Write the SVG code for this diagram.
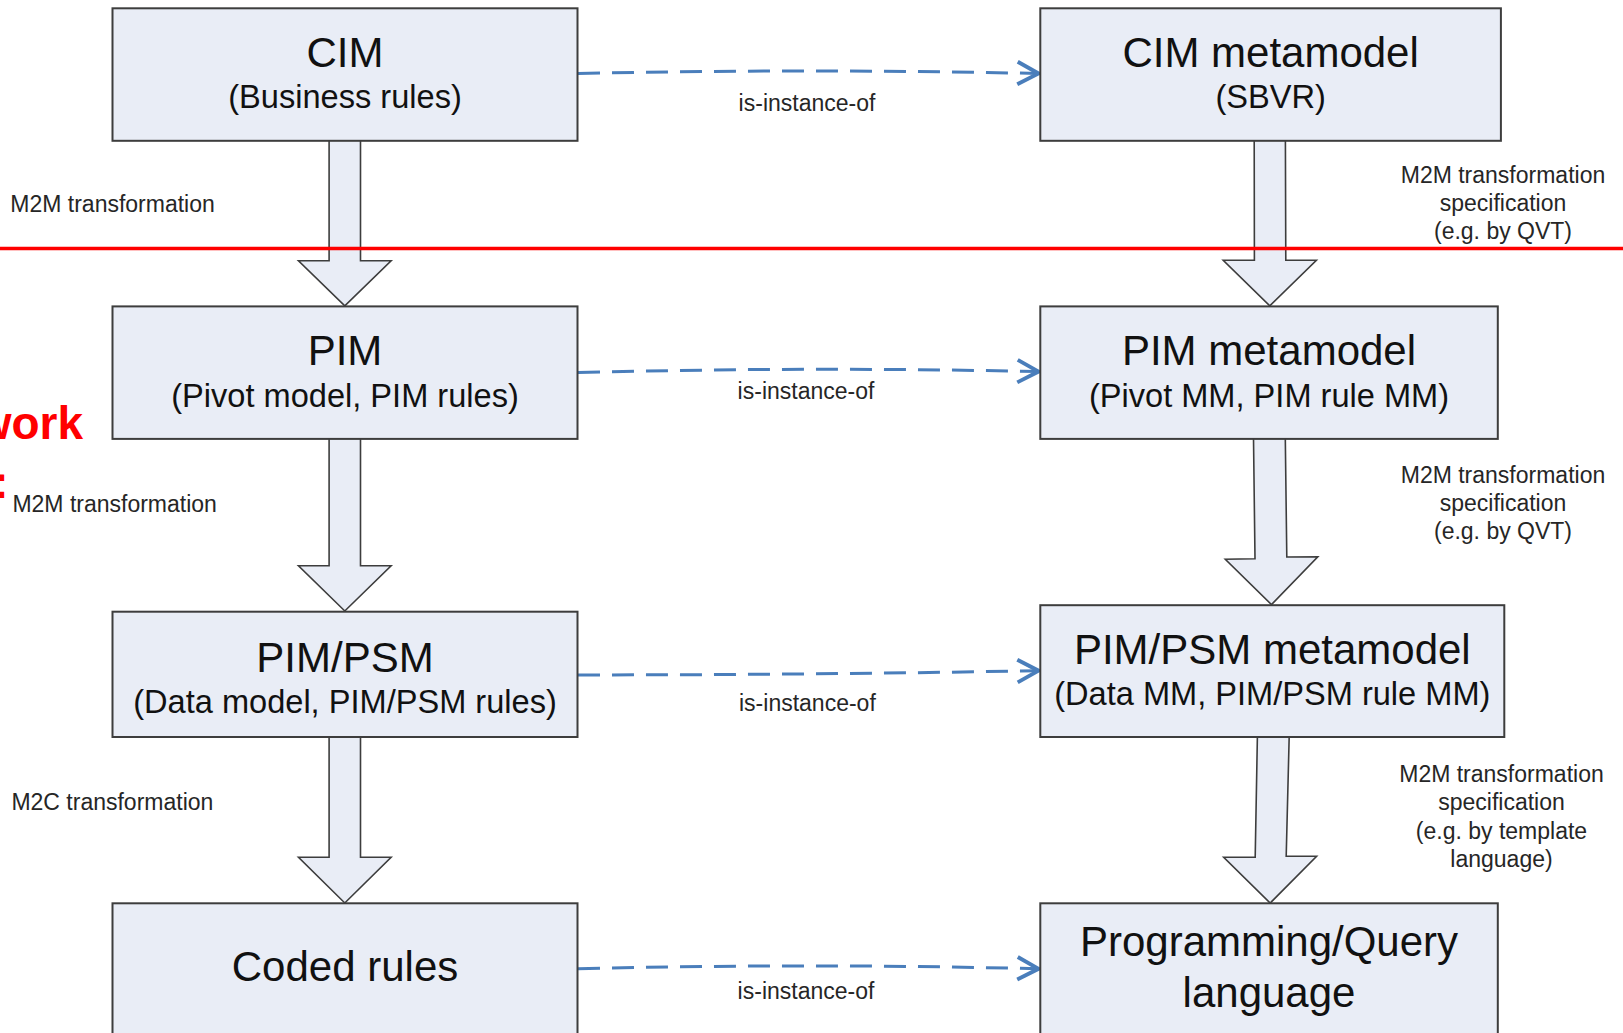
<svg xmlns="http://www.w3.org/2000/svg" width="1623" height="1033" viewBox="0 0 1623 1033">
  <defs>
    <style>
      .box { fill: #e9edf6; stroke: #3d3d3d; stroke-width: 2; }
      .blk { fill: #e9edf6; stroke: #3d3d3d; stroke-width: 1.6; stroke-linejoin: miter; }
      .title { font-family: "Liberation Sans", Arial, sans-serif; font-size: 42px; fill: #111; text-anchor: middle; }
      .sub { font-family: "Liberation Sans", Arial, sans-serif; font-size: 32.6px; fill: #111; text-anchor: middle; }
      .lbl { font-family: "Liberation Sans", Arial, sans-serif; font-size: 23px; fill: #262626; }
      .mid { text-anchor: middle; }
      .dash { fill: none; stroke: #4a7ebb; stroke-width: 3; stroke-dasharray: 22 12; marker-end: url(#chev); }
      .red { font-family: "Liberation Sans", Arial, sans-serif; font-size: 46px; font-weight: bold; fill: #ff0000; }
    </style>
    <marker id="chev" markerUnits="userSpaceOnUse" markerWidth="30" markerHeight="30" viewBox="-16 -10 20 20" refX="0" refY="0" orient="auto">
      <path d="M-14,-7.5 L0,0 L-14,7.5" fill="none" stroke="#4a7ebb" stroke-width="2.6" stroke-dasharray="none"/>
    </marker>
  </defs>

  <rect width="1623" height="1033" fill="#ffffff"/>

  <!-- block arrows between levels -->
  <g id="transformations">
    <path class="blk" d="M329.1,139.8 L360.5,139.8 L360.5,260.7 L391.1,260.7 L344.8,305.8 L298.5,260.7 L329.1,260.7 Z"/>
    <path class="blk" d="M329.1,437.9 L360.5,437.9 L360.5,565.7 L391.1,565.7 L344.8,611 L298.5,565.7 L329.1,565.7 Z"/>
    <path class="blk" d="M329.1,736 L360.5,736 L360.5,857.3 L391.1,857.3 L344.8,903 L298.5,857.3 L329.1,857.3 Z"/>
    <path class="blk" d="M1254.2,139.8 L1285.4,139.8 L1285.8,260.3 L1316.4,260.3 L1269.8,305.8 L1223.2,260.3 L1254.4,260.3 Z"/>
    <path class="blk" d="M1253.5,437.9 L1285.3,437.9 L1286.8,557 L1317.8,556.7 L1271.5,604.6 L1225.3,559.3 L1255,558.8 Z"/>
    <path class="blk" d="M1257.4,736 L1289.2,736 L1286.2,856.3 L1316.6,856.3 L1270.2,903 L1223.7,857.3 L1255.2,857.3 Z"/>
  </g>

  <!-- is-instance-of links -->
  <g id="connectors">
    <path class="dash" d="M578,73.5 Q808,68.5 1038.5,73.5"/>
    <path class="dash" d="M578,372.6 Q808,366.5 1038.5,371.6"/>
    <path class="dash" d="M578,674.9 Q808,675 1038.5,670.7"/>
    <path class="dash" d="M578,968.8 Q808,963 1038.5,968.8"/>
    <text class="lbl mid" x="807" y="110.8">is-instance-of</text>
    <text class="lbl mid" x="806" y="399">is-instance-of</text>
    <text class="lbl mid" x="807.4" y="711">is-instance-of</text>
    <text class="lbl mid" x="806" y="999">is-instance-of</text>
  </g>

  <!-- model column -->
  <g id="cim">
    <rect class="box" x="112.5" y="8.3" width="465" height="132.5"/>
    <text class="title" x="345" y="66.8">CIM</text>
    <text class="sub" x="345" y="108">(Business rules)</text>
  </g>
  <g id="pim">
    <rect class="box" x="112.5" y="306.4" width="465" height="132.5"/>
    <text class="title" x="345" y="365">PIM</text>
    <text class="sub" x="345" y="406.7">(Pivot model, PIM rules)</text>
  </g>
  <g id="pim-psm">
    <rect class="box" x="112.5" y="611.7" width="465" height="125.3"/>
    <text class="title" x="345" y="671.7">PIM/PSM</text>
    <text class="sub" x="345" y="713.3">(Data model, PIM/PSM rules)</text>
  </g>
  <g id="coded-rules">
    <rect class="box" x="112.5" y="903.3" width="465" height="150"/>
    <text class="title" x="345" y="981">Coded rules</text>
  </g>

  <!-- metamodel column -->
  <g id="cim-mm">
    <rect class="box" x="1040.3" y="8.3" width="460.6" height="132.5"/>
    <text class="title" x="1270.6" y="66.8">CIM metamodel</text>
    <text class="sub" x="1270.6" y="108">(SBVR)</text>
  </g>
  <g id="pim-mm">
    <rect class="box" x="1040.3" y="306.4" width="457.5" height="132.5"/>
    <text class="title" x="1269" y="365">PIM metamodel</text>
    <text class="sub" x="1269" y="406.7">(Pivot MM, PIM rule MM)</text>
  </g>
  <g id="pim-psm-mm">
    <rect class="box" x="1040.3" y="605.2" width="464" height="131.8"/>
    <text class="title" x="1272.3" y="663.8">PIM/PSM metamodel</text>
    <text class="sub" x="1272.3" y="705">(Data MM, PIM/PSM rule MM)</text>
  </g>
  <g id="language">
    <rect class="box" x="1040.3" y="903.3" width="457.5" height="150"/>
    <text class="title" x="1269" y="956">Programming/Query</text>
    <text class="title" x="1269" y="1006.5">language</text>
  </g>

  <!-- transformation labels -->
  <g id="labels">
    <text class="lbl" x="10.3" y="212">M2M transformation</text>
    <text class="lbl" x="12.4" y="512">M2M transformation</text>
    <text class="lbl" x="11.4" y="810">M2C transformation</text>
    <text class="lbl mid" x="1503" y="183">M2M transformation</text>
    <text class="lbl mid" x="1503" y="211">specification</text>
    <text class="lbl mid" x="1503" y="239">(e.g. by QVT)</text>
    <text class="lbl mid" x="1503" y="483">M2M transformation</text>
    <text class="lbl mid" x="1503" y="511">specification</text>
    <text class="lbl mid" x="1503" y="539">(e.g. by QVT)</text>
    <text class="lbl mid" x="1501.5" y="782">M2M transformation</text>
    <text class="lbl mid" x="1501.5" y="810">specification</text>
    <text class="lbl mid" x="1501.5" y="839">(e.g. by template</text>
    <text class="lbl mid" x="1501.5" y="867">language)</text>
  </g>

  <!-- red overlay: heading cut at the left edge and separator line -->
  <g id="overlay">
    <text class="red" x="83" y="438.5" text-anchor="end">work</text>
    <text class="red" x="-6.8" y="498">:</text>
    <line x1="0" y1="248.5" x2="1623" y2="248.5" stroke="#ff0000" stroke-width="3.6"/>
  </g>
</svg>
